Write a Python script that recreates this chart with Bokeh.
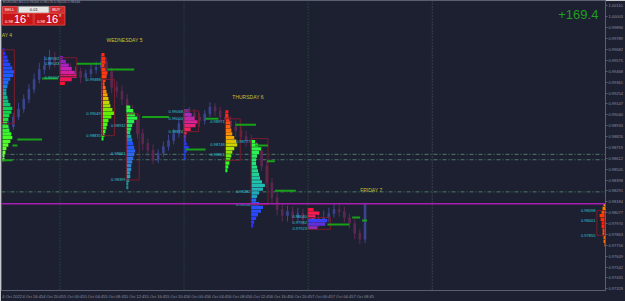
from bokeh.plotting import figure
from bokeh.models import LinearAxis, FixedTicker, PrintfTickFormatter, Range1d, Span, Label
from bokeh.core.properties import value
from bokeh.embed import file_html
from bokeh.resources import INLINE

# ---------------- data ----------------
# hourly bars, time in hours since 4 Oct 2022 00:00 (server time)
bar_hour = list(range(13, 84))
first_open = 0.98903
close = [0.98855, 0.98922, 0.99019, 0.99097, 0.99194, 0.99291, 0.99388, 0.99485, 0.99524, 0.99601,
         0.99563, 0.99524, 0.99485, 0.99437, 0.99466, 0.99407, 0.99446, 0.99485, 0.99504, 0.99563,
         0.99466, 0.99310, 0.99272, 0.99194, 0.99078, 0.99000, 0.98855, 0.98758, 0.98690, 0.98593,
         0.98661, 0.98728, 0.98787, 0.98855, 0.98952, 0.99019, 0.99058, 0.99019, 0.98981, 0.99049,
         0.99116, 0.99078, 0.99019, 0.98981, 0.98922, 0.98884, 0.98825, 0.98787, 0.98728, 0.98690,
         0.98534, 0.98370, 0.98224, 0.98108, 0.98049, 0.98088, 0.98030, 0.98069, 0.98011, 0.97991,
         0.98030, 0.97991, 0.98030, 0.98069, 0.98108, 0.98088, 0.98030, 0.97972, 0.97875, 0.97817,
         0.98166]
high = [0.98961, 0.98981, 0.99058, 0.99155, 0.99243, 0.99340, 0.99446, 0.99553, 0.99621, 0.99679,
        0.99660, 0.99621, 0.99572, 0.99543, 0.99514, 0.99504, 0.99485, 0.99534, 0.99563, 0.99631,
        0.99601, 0.99504, 0.99369, 0.99330, 0.99243, 0.99136, 0.99049, 0.98903, 0.98806, 0.98748,
        0.98699, 0.98777, 0.98845, 0.98903, 0.99000, 0.99068, 0.99116, 0.99097, 0.99058, 0.99087,
        0.99165, 0.99155, 0.99116, 0.99068, 0.99029, 0.98981, 0.98942, 0.98884, 0.98845, 0.98777,
        0.98728, 0.98583, 0.98418, 0.98273, 0.98166, 0.98146, 0.98137, 0.98127, 0.98117, 0.98069,
        0.98088, 0.98079, 0.98098, 0.98127, 0.98166, 0.98156, 0.98137, 0.98069, 0.98011, 0.97914,
        0.98176]
low = [0.98806, 0.98816, 0.98893, 0.98990, 0.99058, 0.99155, 0.99252, 0.99349, 0.99437, 0.99485,
       0.99504, 0.99466, 0.99427, 0.99388, 0.99398, 0.99349, 0.99369, 0.99407, 0.99446, 0.99466,
       0.99407, 0.99252, 0.99213, 0.99136, 0.99019, 0.98942, 0.98806, 0.98690, 0.98631, 0.98554,
       0.98564, 0.98622, 0.98690, 0.98748, 0.98816, 0.98903, 0.98981, 0.98961, 0.98922, 0.98942,
       0.99019, 0.99029, 0.98971, 0.98922, 0.98874, 0.98825, 0.98777, 0.98728, 0.98680, 0.98631,
       0.98486, 0.98321, 0.98166, 0.98049, 0.97991, 0.97991, 0.97972, 0.97982, 0.97952, 0.97933,
       0.97943, 0.97933, 0.97952, 0.97982, 0.98030, 0.98040, 0.97982, 0.97923, 0.97817, 0.97768,
       0.97778]

current_price = 0.98166
pnl_text = "+169.4"

# volume profiles (relative volume per price bin, top bin first)
prof_anchor = [12.89, 24.0, 32.05, 36.84, 47.95, 56.0, 60.98, 71.9, 129.5]
prof_top = [0.99679, 0.99601, 0.99631, 0.99116, 0.99078, 0.99068, 0.98777, 0.98108, 0.98156]
prof_vol = [
    [2, 3, 5, 6, 8, 10, 12, 11, 8, 6, 5, 4, 4, 5, 6, 8, 10, 9, 7, 6, 5, 6, 7, 9, 10, 8, 6, 4, 3, 2, 2],
    [3, 6, 9, 12, 15, 17, 12, 5],
    [3, 4, 4, 3, 4, 6, 5, 4, 3, 4, 5, 6, 7, 8, 9, 11, 13, 10, 7, 6, 5, 4, 3, 2],
    [4, 7, 9, 11, 8, 6, 5, 4, 5, 6, 7, 8, 9, 8, 7, 6, 5, 5, 4, 4, 3, 2, 2],
    [5, 8, 11, 14, 12, 7, 3, 2, 2, 3, 5, 3, 2, 2],
    [3, 3, 4, 5, 5, 6, 7, 9, 11, 12, 9, 7, 6, 5, 4, 3, 2],
    [4, 7, 10, 8, 6, 5, 5, 6, 7, 8, 9, 11, 14, 12, 8, 6, 5, 8, 12, 10, 7, 5, 3, 2],
    [6, 12, 8, 20, 18, 10],
    [2, 3, 4, 6, 5, 4, 4, 3, 3, 2, 2, 1],
]
# value-area boxes
va_left = [12.89, 24.0, 32.24, 36.84, 47.95, 56.0, 60.98, 71.9, 127.83]
va_right = [15.19, 27.26, 34.54, 39.33, 50.82, 58.87, 64.23, 76.3, 129.37]
va_top = [0.99679, 0.99601, 0.99388, 0.99049, 0.99078, 0.99000, 0.98806, 0.98030, 0.98098]
va_bottom = [0.98952, 0.99417, 0.98835, 0.98399, 0.98874, 0.98593, 0.98156, 0.97914, 0.97855]
# price labels of each profile (VAH, POC, VAL)
lab_anchor = [24.0, 32.05, 36.84, 47.95, 56.0, 60.98, 71.9, 127.7]
lab_prices = [
    [0.99592, 0.99543, 0.99407],
    [0.99388, 0.99049, 0.98835],
    [0.98932, 0.98661, 0.98399],
    [0.99068, 0.99000, 0.98874],
    [0.98971, 0.98748, 0.98651],
    [0.98777, 0.98282, 0.98156],
    [0.98040, 0.97982, 0.97923],
    [0.98098, 0.98001, 0.97855],
]
# POC extension lines (start hour, end hour, price)
poc_x0 = [12.89, 14.81, 15.77, 20.55, 27.26, 33.20, 39.90, 48.33, 52.16, 57.91, 61.74, 64.04, 65.57, 75.73, 80.52, 82.43]
poc_x1 = [14.81, 15.77, 20.55, 23.62, 32.05, 38.37, 45.08, 52.16, 54.65, 61.93, 64.23, 65.57, 69.60, 79.94, 82.05, 83.39]
poc_y = [0.98593, 0.98738, 0.98796, 0.99398, 0.99543, 0.99485, 0.99019, 0.98699, 0.99000, 0.98942, 0.98738, 0.98583, 0.98292, 0.97962, 0.98030, 0.98001]
# previous-day levels (dash-dot)
level_prices = [0.98651, 0.98598, 0.98282]
# day separators (hours)
day_sep = [24, 48, 72, 96]
day_names = ["AY 4", "WEDNESDAY 5", "THURSDAY 6", "FRIDAY 7"]

# axis ticks
y_ticks = [round(1.00110 - 0.00107 * k, 5) for k in range(27)]
x_tick_hours = [12.75 + 4 * k for k in range(18)]
x_tick_labels = ["4 Oct 2022", "4 Oct 16:45", "4 Oct 20:45", "5 Oct 00:45", "5 Oct 04:45", "5 Oct 08:45",
                 "5 Oct 12:45", "5 Oct 16:45", "5 Oct 20:45", "6 Oct 00:45", "6 Oct 04:45", "6 Oct 08:45",
                 "6 Oct 12:45", "6 Oct 16:45", "6 Oct 20:45", "7 Oct 00:45", "7 Oct 04:45", "7 Oct 08:45"]

# ---------------- style ----------------
BG = "#1d2031"
AXC = "#8c90a2"
FONT = value("Liberation Sans")
BIN = 0.00036
VOL_SCALE = 0.19
LABEL_SHIFT = 2.0
X0, X1 = 12.7, 129.5
Y0, Y1 = 0.97312, 1.00164

prof_stops = [
    [(0, "#2a2aff"), (0.3, "#1a6aff"), (0.4, "#10b0a0"), (0.55, "#10d050"), (0.8, "#40ff20"), (1, "#80ff40")],
    [(0, "#7a20d0"), (0.5, "#d020b0"), (1, "#ff1030")],
    [(0, "#ff2a10"), (0.3, "#ff4010"), (0.45, "#ff9000"), (0.55, "#d0d000"), (0.7, "#60f000"), (1, "#20ff20")],
    [(0, "#30ff30"), (0.3, "#20e060"), (0.45, "#2050ff"), (0.65, "#3070e0"), (0.85, "#30a0b0"), (1, "#209090")],
    [(0, "#9030c0"), (0.25, "#e02090"), (0.45, "#ff2040"), (0.55, "#7030e0"), (0.7, "#3030ff"), (1, "#2040ff")],
    [(0, "#ff1a1a"), (0.2, "#ff5010"), (0.4, "#ff9a00"), (0.6, "#c0e000"), (0.8, "#50f010"), (1, "#20ff30")],
    [(0, "#30ff30"), (0.3, "#20e080"), (0.5, "#20c0b0"), (0.65, "#20a0c0"), (0.7, "#2060ff"), (1, "#3030ff")],
    [(0, "#ff1040"), (0.4, "#ff2060"), (0.55, "#3040ff"), (0.8, "#6030e0"), (1, "#9030c0")],
    [(0, "#ffa000"), (0.3, "#ff3000"), (0.5, "#ff1a00"), (0.7, "#ff6000"), (1, "#ff7010")],
]
prof_side = ["left"] * 8 + ["right"]


def hex2rgb(h):
    return tuple(int(h[i:i + 2], 16) for i in (1, 3, 5))


def grad(stops, t):
    for (t0, c0), (t1, c1) in zip(stops[:-1], stops[1:]):
        if t <= t1 + 1e-9:
            f = 0 if t1 == t0 else (t - t0) / (t1 - t0)
            a, b = hex2rgb(c0), hex2rgb(c1)
            return "#%02x%02x%02x" % tuple(int(round(a[i] + (b[i] - a[i]) * f)) for i in range(3))
    return stops[-1][1]


p = figure(width=625, height=301, x_range=Range1d(X0, X1), y_range=Range1d(Y0, Y1),
           output_backend="svg", toolbar_location=None,
           x_axis_location=None, y_axis_location=None,
           min_border_left=1, min_border_top=0, min_border_right=0, min_border_bottom=0)
p.background_fill_color = BG
p.border_fill_color = BG
p.outline_line_color = "#5a5e70"
p.grid.visible = False

# axes
yax = LinearAxis(ticker=FixedTicker(ticks=y_ticks), formatter=PrintfTickFormatter(format="%.5f"))
xax = LinearAxis(ticker=FixedTicker(ticks=[h + LABEL_SHIFT for h in x_tick_hours]),
                 major_label_overrides={h + LABEL_SHIFT: t for h, t in zip(x_tick_hours, x_tick_labels)})
for ax in (yax, xax):
    ax.major_label_text_font_size = "4px"
    ax.major_label_text_color = AXC
    ax.major_label_text_font = "Liberation Sans"
    ax.axis_line_color = "#5a5e70"
    ax.major_tick_line_color = "#5a5e70"
    ax.major_tick_out = 2
    ax.major_tick_in = 0
    ax.minor_tick_line_color = None
    ax.major_label_standoff = 1
xax.major_tick_line_color = None
p.add_layout(yax, "right")
p.add_layout(xax, "below")

# day separators
for i, h in enumerate(day_sep):
    p.add_layout(Span(location=h, dimension="height", line_color="#2f5a40" if i < 3 else "#55596a",
                      line_dash="1 2", line_width=1))

# previous day levels
p.segment(x0=[X0] * 3, x1=[X1] * 3, y0=level_prices, y1=level_prices,
          line_color="#4d7a68", line_dash="4 2 1 2", line_width=1)

# candles
opens = [first_open] + close[:-1]
up = [c >= o for o, c in zip(opens, close)]
cols = ["#3b4690" if u else "#5e2852" for u in up]
p.segment(x0=bar_hour, x1=bar_hour, y0=low, y1=high, line_color=cols, line_width=1)
p.vbar(x=bar_hour, bottom=[min(o, c) for o, c in zip(opens, close)],
       top=[max(o, c) for o, c in zip(opens, close)], width=0.3,
       fill_color=cols, line_color=cols)

# profiles
for anc, top, vol, side, stops in zip(prof_anchor, prof_top, prof_vol, prof_side, prof_stops):
    n = len(vol)
    levels = [top - i * BIN for i in range(n)]
    lens = [v * VOL_SCALE for v in vol]
    colors = [grad(stops, i / (n - 1)) for i in range(n)]
    if side == "left":
        lefts, rights = [anc] * n, [anc + l for l in lens]
    else:
        lefts, rights = [anc - l for l in lens], [anc] * n
    p.hbar(y=levels, left=lefts, right=rights, height=BIN * 0.9, fill_color=colors, line_color=None)

p.quad(left=va_left, right=va_right, top=va_top, bottom=va_bottom,
       fill_color=None, line_color="#7a1c2c", line_width=1)

# POC lines
p.segment(x0=poc_x0, x1=poc_x1, y0=poc_y, y1=poc_y, line_color="#19a019", line_width=2)

# profile labels
lx, ly, lt = [], [], []
for anc, prices in zip(lab_anchor, lab_prices):
    for pr in prices:
        lx.append(anc - 0.15)
        ly.append(pr)
        lt.append("%.5f" % pr)
p.text(x=lx, y=ly, text=lt, text_align="right", text_baseline="middle",
       text_font_size="4px", text_color="#2ec8d8", text_font=FONT)

# current price line
p.segment(x0=[X0], x1=[X1], y0=[current_price], y1=[current_price], line_color="#a81fb0", line_width=1.5)

# day names
p.text(x=[X0 + 0.05], y=[0.99825], text=[day_names[0]], text_align="left", text_baseline="middle",
       text_font_size="5px", text_color="#c8c032", text_font=FONT)
p.text(x=[33.01, 57.34, 82.05], y=[0.99776, 0.99213, 0.98302], text=day_names[1:],
       text_align="left", text_baseline="middle",
       text_font_size="5px", text_color="#c8c032", text_font=FONT)

# P/L
p.text(x=[120.36], y=[1.00023], text=[pnl_text], text_align="left", text_baseline="middle",
       text_font_size="13px", text_color="#1f9e1f", text_font=value("Liberation Sans"))

# one-click trading panel
p.quad(left=[12.89, 22.09], right=[15.77, 24.96], top=[1.00106] * 2, bottom=[1.00038] * 2,
       fill_color="#d42a2a", line_color="#e05050")
p.quad(left=[15.96], right=[21.90], top=[1.00106], bottom=[1.00038], fill_color="#e6e6e6", line_color="#999999")
p.quad(left=[12.89, 19.02], right=[18.83, 24.96], top=[1.00038] * 2, bottom=[0.99922] * 2,
       fill_color="#c81414", line_color="#e04040")
p.text(x=[13.3, 22.5], y=[1.00072] * 2, text=["SELL", "BUY"], text_baseline="middle",
       text_font_size="4px", text_color="#ffffff", text_font=FONT)
p.text(x=[18.93], y=[1.00072], text=["0.01"], text_align="center", text_baseline="middle",
       text_font_size="4px", text_color="#202020", text_font=FONT)
p.text(x=[13.4, 19.6], y=[0.99960] * 2, text=["0.98", "0.98"], text_baseline="middle",
       text_font_size="4px", text_color="#ffffff", text_font=FONT)
p.text(x=[15.1, 21.3], y=[0.99978] * 2, text=["16", "16"], text_baseline="middle",
       text_font_size="11px", text_color="#ffffff", text_font=FONT)
p.text(x=[17.7, 23.8], y=[1.00020] * 2, text=["6", "8"], text_baseline="middle",
       text_font_size="4px", text_color="#ffffff", text_font=FONT)
p.text(x=[13.0], y=[1.00145], text=["EURUSD,M15  0.98166 0.98176 0.98156 0.98166"], text_baseline="middle",
       text_font_size="3.5px", text_color="#9a9eb0", text_font=FONT)

# current price tag on axis
p.add_layout(Label(x=X1, y=current_price, text="%.5f" % current_price, x_offset=2,
                   text_baseline="middle", text_font_size="4px", text_color="#1d2031",
                   background_fill_color="#c8cad4", text_font="Liberation Sans"))

open("out.html", "w").write(file_html(p, INLINE))
